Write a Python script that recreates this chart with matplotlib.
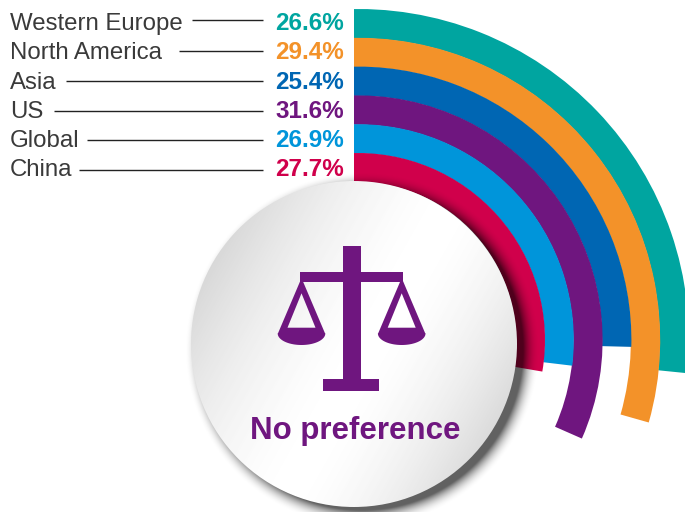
import numpy as np
import matplotlib
matplotlib.use("Agg")
import matplotlib.pyplot as plt
from matplotlib.patches import Wedge, Circle, PathPatch, Rectangle
from matplotlib.path import Path

regions = ["Western Europe", "North America", "Asia", "US", "Global", "China"]
values = [26.6, 29.4, 25.4, 31.6, 26.9, 27.7]
colors = ["#00A5A0", "#F39229", "#0066B3", "#6F167F", "#0095DA", "#D0004B"]
title = "No preference"

W, H = 685, 512
cx, cy, R = 354, 344, 163      # disc
ax_c, ay_c = 358, 340          # arcs
outer, band = 331, 28.8
purple = "#6F167F"

plt.rcParams["font.family"] = ["Liberation Sans", "DejaVu Sans"]
fig = plt.figure(figsize=(W / 100, H / 100), dpi=100)
ax = fig.add_axes([0, 0, 1, 1])
ax.set_xlim(0, W)
ax.set_ylim(H, 0)
ax.axis("off")

# arcs: a full turn is 100%
clip = Rectangle((354, 0), W - 354, H, transform=ax.transData, fc="none", ec="none")
ax.add_patch(clip)
for i, (v, c) in enumerate(zip(values, colors)):
    wd = ax.add_patch(Wedge((ax_c, ay_c), outer - i * band, -93, -90 + v * 3.6,
                            width=band + 0.5, fc=c, ec="none", zorder=2 + i * 0.01))
    wd.set_clip_path(clip)

# labels, leader lines, percentages
baselines = [30, 59, 88.7, 118, 147, 176.5]
leader_y = [20, 50.7, 80.7, 111.2, 140, 170]
leader_x = [192, 179, 66, 54, 87, 79]
for name, v, c, yb, yl, xl in zip(regions, values, colors, baselines, leader_y, leader_x):
    ax.text(10, yb, name, fontsize=17.3, color="#3a3a3a", ha="left", va="baseline", zorder=5)
    ax.plot([xl, 263], [yl, yl], color="#222222", lw=1.0, solid_capstyle="butt", zorder=5)
    ax.text(344, yb, f"{v}%", fontsize=17.5, fontweight="bold", color=c,
            ha="right", va="baseline", zorder=5)

# soft shadow of the disc
yy, xx = np.mgrid[0:H * 2, 0:W * 2] / 2.0
d = np.hypot(xx - (cx + 8), yy - (cy + 5))
blur = 17
a = np.clip((R - 2 + blur - d) / blur, 0, 1) ** 2.2 * 0.62
shadow = np.zeros(d.shape + (4,))
shadow[..., 3] = a
ax.imshow(shadow, extent=(0, W, H, 0), zorder=3, interpolation="bilinear", aspect="auto")

# disc with a diagonal light band
u = (xx - cx) / R
w = (yy - cy) / R
t = u * 0.87 + w * 0.49
shade = np.where(t < 0.1, 1 - 0.13 * np.abs(t - 0.1) ** 1.7, 1 - 0.17 * np.abs(t - 0.1) ** 1.7)
im = ax.imshow(np.clip(shade, 0, 1), extent=(0, W, H, 0), cmap="gray", vmin=0, vmax=1,
               zorder=4, interpolation="bilinear", aspect="auto")
disc = Circle((cx, cy), R, transform=ax.transData, fc="none", ec="none")
ax.add_patch(disc)
im.set_clip_path(disc)
ax.set_xlim(0, W)
ax.set_ylim(H, 0)

# balance-scale icon
ax.add_patch(Rectangle((343.3, 246), 17.4, 145, fc=purple, ec="none", zorder=6))
ax.add_patch(Rectangle((300, 271.7), 102.7, 10.6, fc=purple, ec="none", zorder=6))
ax.add_patch(Rectangle((322.7, 379.3), 56.6, 11.7, fc=purple, ec="none", zorder=6))
for px in (301.5, 401.7):
    verts = [(px, 278), (px - 23.8, 334), (px + 23.8, 334), (px, 278),
             (px, 293.3), (px + 14, 327.7), (px - 14, 327.7), (px, 293.3)]
    codes = [Path.MOVETO, Path.LINETO, Path.LINETO, Path.CLOSEPOLY,
             Path.MOVETO, Path.LINETO, Path.LINETO, Path.CLOSEPOLY]
    ax.add_patch(PathPatch(Path(verts, codes), fc=purple, ec="none", zorder=6))
    s = np.linspace(0, np.pi, 50)
    ax.fill(px + 23.8 * np.cos(s), 333.5 + 11.5 * np.sin(s), color=purple, lw=0, zorder=6)
    ax.add_patch(Rectangle((px - 18, 327.7), 36, 6.5, fc=purple, ec="none", zorder=6))

ax.text(355, 439, title, fontsize=22.5, fontweight="bold", color=purple,
        ha="center", va="baseline", zorder=6)

fig.savefig("out.png", dpi=100)
